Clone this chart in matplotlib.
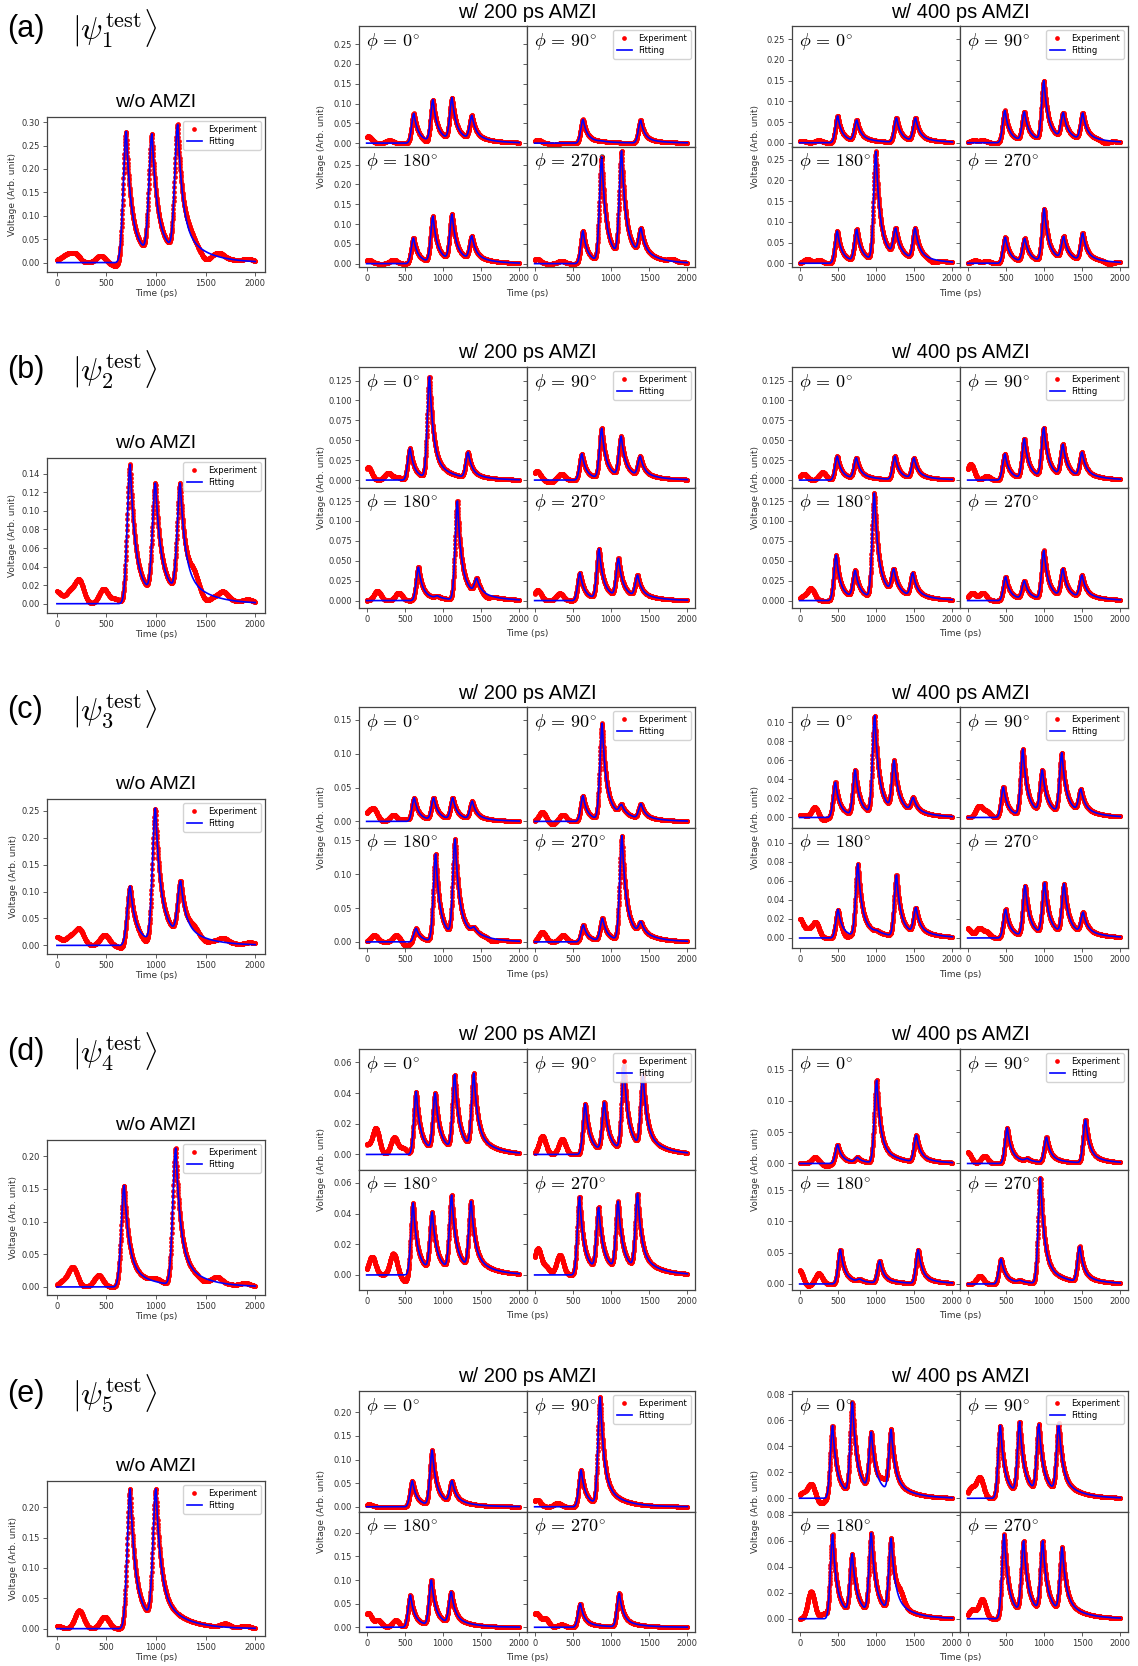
import numpy as np
import matplotlib
matplotlib.use('Agg')
import matplotlib.pyplot as plt
from matplotlib.ticker import MultipleLocator

plt.rcParams['mathtext.fontset'] = 'cm'
plt.rcParams['font.family'] = ['DejaVu Sans']

# ---------------- data (peak time [ps], peak height) ----------------
row_labels = ['(a)', '(b)', '(c)', '(d)', '(e)']
kets = [r'$|\psi_1^{\rm test}\rangle$', r'$|\psi_2^{\rm test}\rangle$', r'$|\psi_3^{\rm test}\rangle$',
        r'$|\psi_4^{\rm test}\rangle$', r'$|\psi_5^{\rm test}\rangle$']
phase_labels = [r'$\phi\,=\,0^{\circ}$', r'$\phi\,=\,90^{\circ}$', r'$\phi\,=\,180^{\circ}$',
                r'$\phi\,=\,270^{\circ}$']
xticks = [0, 500, 1000, 1500, 2000]

a_wo_peaks = [(700, 0.280), (960, 0.275), (1220, 0.295)]
a_wo_bumps = [(10, 0.005), (100, 0.015), (185, 0.018), (440, 0.015), (590, -0.007), (1340, 0.012),
              (1500, -0.016), (1640, 0.009), (1930, 0.005)]
a_200_peaks = [[(620, 0.075), (870, 0.110), (1120, 0.115), (1380, 0.070)],
               [(635, 0.060), (875, 0.006), (1390, 0.058)],
               [(615, 0.065), (870, 0.120), (1120, 0.125), (1380, 0.070)],
               [(635, 0.083), (880, 0.270), (1140, 0.285), (1395, 0.090)]]
a_200_bumps = [[(20, 0.017), (300, 0.007), (780, -0.006)],
               [(40, 0.008), (250, -0.004)],
               [(30, 0.009), (350, 0.010)],
               [(30, 0.012), (350, 0.007), (1800, 0.006)]]
a_400_peaks = [[(500, 0.065), (750, 0.055), (1270, 0.060), (1520, 0.060)],
               [(490, 0.078), (745, 0.075), (1000, 0.150), (1255, 0.073), (1510, 0.072)],
               [(495, 0.078), (750, 0.082), (1000, 0.270), (1260, 0.085), (1515, 0.085)],
               [(495, 0.063), (750, 0.060), (1005, 0.132), (1260, 0.065), (1510, 0.073)]]
a_400_bumps = [[(30, 0.005), (250, 0.006)],
               [(80, 0.006), (200, 0.006), (1800, -0.006)],
               [(100, 0.010), (250, 0.008), (1750, -0.007)],
               [(100, 0.007), (250, 0.006), (1850, -0.006)]]

b_wo_peaks = [(740, 0.150), (995, 0.130), (1245, 0.130)]
b_wo_bumps = [(0, 0.013), (130, 0.012), (225, 0.025), (470, 0.016), (590, 0.005), (1380, 0.012),
              (1500, -0.008), (1680, 0.008), (1930, 0.003)]
b_200_peaks = [[(570, 0.040), (825, 0.130), (1330, 0.035)],
               [(620, 0.033), (880, 0.065), (1135, 0.055), (1385, 0.030)],
               [(680, 0.042), (930, 0.006), (1190, 0.125), (1445, 0.028)],
               [(595, 0.035), (845, 0.065), (1100, 0.053), (1350, 0.032)]]
b_200_bumps = [[(20, 0.016), (280, 0.009), (400, 0.004)],
               [(30, 0.011), (350, 0.008), (200, -0.003)],
               [(140, 0.012), (420, 0.010), (1570, -0.004)],
               [(40, 0.013), (330, 0.009)]]
b_400_peaks = [[(495, 0.030), (745, 0.028), (1250, 0.030), (1500, 0.028)],
               [(490, 0.033), (745, 0.052), (1000, 0.066), (1250, 0.045), (1500, 0.035)],
               [(480, 0.057), (730, 0.038), (980, 0.135), (1235, 0.040), (1485, 0.035)],
               [(500, 0.030), (745, 0.025), (1000, 0.063), (1250, 0.040), (1500, 0.032)]]
b_400_bumps = [[(50, 0.008), (300, 0.010)],
               [(40, 0.020), (250, 0.005)],
               [(150, 0.015), (50, 0.005)],
               [(60, 0.010), (200, 0.010)]]

c_wo_peaks = [(740, 0.110), (995, 0.255), (1250, 0.120)]
c_wo_bumps = [(0, 0.015), (130, 0.015), (225, 0.030), (480, 0.020), (660, -0.005), (900, -0.008),
              (1380, 0.010), (1500, -0.006), (1680, 0.008), (1950, 0.004)]
c_200_peaks = [[(625, 0.035), (880, 0.035), (1130, 0.035), (1385, 0.030)],
               [(635, 0.038), (885, 0.145), (1140, 0.025), (1395, 0.026)],
               [(650, 0.020), (905, 0.130), (1160, 0.152), (1410, 0.022)],
               [(640, 0.025), (890, 0.035), (1145, 0.157), (1395, 0.030)]]
c_200_bumps = [[(20, 0.012), (100, 0.016), (350, 0.010), (500, 0.004)],
               [(100, 0.014), (370, 0.010), (230, -0.004)],
               [(100, 0.010), (390, 0.010), (520, -0.006), (1650, -0.004)],
               [(100, 0.015), (370, 0.010)]]
c_400_peaks = [[(470, 0.037), (730, 0.050), (985, 0.107), (1240, 0.060), (1490, 0.021)],
               [(470, 0.032), (725, 0.072), (980, 0.050), (1235, 0.068), (1485, 0.030)],
               [(505, 0.030), (765, 0.078), (1015, 0.008), (1270, 0.066), (1525, 0.032)],
               [(500, 0.030), (755, 0.055), (1010, 0.058), (1265, 0.057), (1515, 0.027)]]
c_400_bumps = [[(30, 0.003), (200, 0.011), (300, -0.003)],
               [(150, 0.012), (250, 0.006)],
               [(0, 0.020), (110, 0.008), (210, 0.016), (600, -0.005)],
               [(0, 0.010), (150, 0.010), (250, 0.006)]]

d_wo_peaks = [(680, 0.155), (1200, 0.212)]
d_wo_bumps = [(60, 0.008), (160, 0.030), (420, 0.018), (1000, 0.005), (1480, -0.005), (1620, 0.008),
              (1900, 0.004)]
d_200_peaks = [[(650, 0.041), (900, 0.040), (1155, 0.052), (1405, 0.053)],
               [(665, 0.033), (915, 0.034), (1170, 0.058), (1420, 0.052)],
               [(610, 0.047), (860, 0.041), (1115, 0.052), (1370, 0.048)],
               [(590, 0.051), (840, 0.044), (1095, 0.048), (1350, 0.053)]]
d_200_bumps = [[(0, 0.006), (120, 0.017), (360, 0.011), (480, 0.004)],
               [(100, 0.012), (360, 0.010)],
               [(70, 0.012), (350, 0.014), (500, -0.004)],
               [(40, 0.017), (330, 0.013), (150, 0.005)]]
d_400_peaks = [[(500, 0.030), (760, 0.010), (1010, 0.133), (1530, 0.045)],
               [(520, 0.057), (785, 0.008), (1035, 0.042), (1545, 0.070)],
               [(535, 0.055), (790, 0.008), (1050, 0.037), (1555, 0.055)],
               [(440, 0.040), (690, 0.006), (955, 0.170), (1470, 0.060)]]
d_400_bumps = [[(200, 0.010), (350, -0.004)],
               [(0, 0.018), (220, 0.012)],
               [(0, 0.022), (250, 0.017), (100, -0.004)],
               [(160, 0.013)]]

e_wo_peaks = [(740, 0.230), (1000, 0.230)]
e_wo_bumps = [(0, 0.005), (225, 0.030), (480, 0.020), (1700, 0.006), (1900, 0.004)]
e_200_peaks = [[(600, 0.055), (860, 0.120), (1120, 0.055)],
               [(610, 0.078), (860, 0.232)],
               [(575, 0.068), (850, 0.100), (1110, 0.075)],
               [(600, 0.050), (1110, 0.072)]]
e_200_bumps = [[(30, 0.005)],
               [(30, 0.015), (300, 0.008)],
               [(20, 0.030), (150, 0.015), (380, 0.015)],
               [(20, 0.030), (140, 0.018), (350, 0.006)]]
e_400_peaks = [[(433, 0.056), (693, 0.074), (940, 0.051), (1200, 0.053)],
               [(430, 0.056), (683, 0.059), (935, 0.057), (1195, 0.058)],
               [(433, 0.065), (690, 0.050), (940, 0.066), (1200, 0.062)],
               [(480, 0.065), (735, 0.060), (985, 0.060), (1240, 0.055)]]
e_400_bumps = [[(40, 0.004), (150, 0.011), (280, -0.004), (1100, 0.006)],
               [(50, 0.008), (160, 0.016)],
               [(150, 0.021), (320, 0.004), (1320, 0.008)],
               [(60, 0.007), (190, 0.015)]]

# axis limits / tick steps: (w/o, 200 ps, 400 ps) per row
ylims = [[(-0.020, 0.311), (-0.0085, 0.296), (-0.009, 0.282)],
         [(-0.010, 0.157), (-0.0093, 0.142), (-0.0093, 0.142)],
         [(-0.016, 0.272), (-0.009, 0.169), (-0.0105, 0.116)],
         [(-0.0123, 0.2246), (-0.0098, 0.0687), (-0.0096, 0.183)],
         [(-0.012, 0.243), (-0.010, 0.245), (-0.0102, 0.0826)]]
ysteps = [[0.05, 0.05, 0.05], [0.02, 0.025, 0.025], [0.05, 0.05, 0.02],
          [0.05, 0.02, 0.05], [0.05, 0.05, 0.02]]

wo_peaks = [a_wo_peaks, b_wo_peaks, c_wo_peaks, d_wo_peaks, e_wo_peaks]
wo_bumps = [a_wo_bumps, b_wo_bumps, c_wo_bumps, d_wo_bumps, e_wo_bumps]
p200 = [a_200_peaks, b_200_peaks, c_200_peaks, d_200_peaks, e_200_peaks]
b200 = [a_200_bumps, b_200_bumps, c_200_bumps, d_200_bumps, e_200_bumps]
p400 = [a_400_peaks, b_400_peaks, c_400_peaks, d_400_peaks, e_400_peaks]
b400 = [a_400_bumps, b_400_bumps, c_400_bumps, d_400_bumps, e_400_bumps]

# ---------------- helpers ----------------
t = np.arange(0, 2001, 2.0)


def shape(dt):
    dt = np.asarray(dt, dtype=float)
    rise = np.exp(-0.5 * (dt / 30.0) ** 2)
    dpos = np.clip(dt, 0, None)
    fall = 0.78 * np.exp(-dpos / 48.0) + 0.22 * np.exp(-dpos / 220.0)
    return np.where(dt < 0, rise, fall)


def fit_curve(peaks):
    # amplitudes chosen so that the summed pulse train passes through the read peak heights
    t0 = np.array([p[0] for p in peaks], dtype=float)
    h = np.array([p[1] for p in peaks], dtype=float)
    M = shape(t0[:, None] - t0[None, :])
    amps = np.clip(np.linalg.solve(M, h), 0, None)
    y = np.zeros_like(t)
    for tp, amp in zip(t0, amps):
        y += amp * shape(t - tp)
    return y


def exp_curve(peaks, bumps):
    y = fit_curve(peaks)
    for tb, hb in bumps:
        y += hb * np.exp(-0.5 * ((t - tb) / 45.0) ** 2)
    return y


W, H = 1138, 1666
fig = plt.figure(figsize=(W / 100, H / 100), dpi=100)


def rect(x0, y0, w, h):
    return [x0 / W, 1 - (y0 + h) / H, w / W, h / H]


SP = '#444444'


def style(ax, ylim, ystep):
    ax.set_xlim(-100, 2100)
    ax.set_ylim(*ylim)
    ax.set_xticks(xticks)
    ax.yaxis.set_major_locator(MultipleLocator(ystep))
    ax.tick_params(labelsize=6, length=3, width=0.6, color=SP, labelcolor='#333333', pad=2)
    for s in ax.spines.values():
        s.set_color(SP)
        s.set_linewidth(0.9)


def draw(ax, peaks, bumps, legend=False):
    ax.plot(t, exp_curve(peaks, bumps), 'o', color='red', ms=3.4, mew=0, label='Experiment')
    ax.plot(t, fit_curve(peaks), '-', color='blue', lw=1.2, label='Fitting')
    if legend:
        ax.legend(loc='upper right', fontsize=6, handlelength=1.8, borderpad=0.45,
                  labelspacing=0.35, markerscale=1.0, framealpha=0.85)


grid_tops = [26, 367, 707, 1049, 1391]
left_tops = [117, 458, 799, 1140, 1481]
sans = ['Liberation Sans', 'DejaVu Sans']

for r in range(5):
    gt = grid_tops[r]
    lt = left_tops[r]
    fig.text(7 / W, 1 - (gt + 3) / H, row_labels[r], fontsize=22, family=sans, va='center', ha='left')
    fig.text(72 / W, 1 - (gt + 3) / H, kets[r], fontsize=23, va='center', ha='left')

    # w/o AMZI
    ax = fig.add_axes(rect(47, lt, 218, 155))
    draw(ax, wo_peaks[r], wo_bumps[r], legend=True)
    style(ax, ylims[r][0], ysteps[r][0])
    ax.set_title('w/o AMZI', fontsize=14, family=sans, pad=7)
    ax.set_xlabel('Time (ps)', fontsize=6.5, color='#333333', labelpad=1)
    ax.set_ylabel('Voltage (Arb. unit)', fontsize=6.5, color='#333333', labelpad=3)

    for g, (gx, peaks_g, bumps_g, title) in enumerate(
            [(359, p200[r], b200[r], 'w/ 200 ps AMZI'), (792, p400[r], b400[r], 'w/ 400 ps AMZI')]):
        for k in range(4):
            i, j = divmod(k, 2)
            ax = fig.add_axes(rect(gx + 168 * j, gt + 120.5 * i, 168, 120.5))
            draw(ax, peaks_g[k], bumps_g[k], legend=(k == 1))
            style(ax, ylims[r][g + 1], ysteps[r][g + 1])
            if i == 0:
                ax.tick_params(labelbottom=False)
            if j == 1:
                ax.tick_params(labelleft=False)
            ax.text(0.04, 0.96, phase_labels[k], transform=ax.transAxes, fontsize=13,
                    va='top', ha='left')
        fig.text((gx + 168) / W, 1 - (gt - 14) / H, title, fontsize=14.5, family=sans,
                 ha='center', va='center')
        fig.text((gx + 168) / W, 1 - (gt + 241 + 26) / H, 'Time (ps)', fontsize=6.5,
                 color='#333333', ha='center', va='center')
        fig.text((gx - 37) / W, 1 - (gt + 120.5) / H, 'Voltage (Arb. unit)', fontsize=6.5,
                 color='#333333', ha='center', va='center', rotation=90)

fig.savefig('out.png', dpi=100)
